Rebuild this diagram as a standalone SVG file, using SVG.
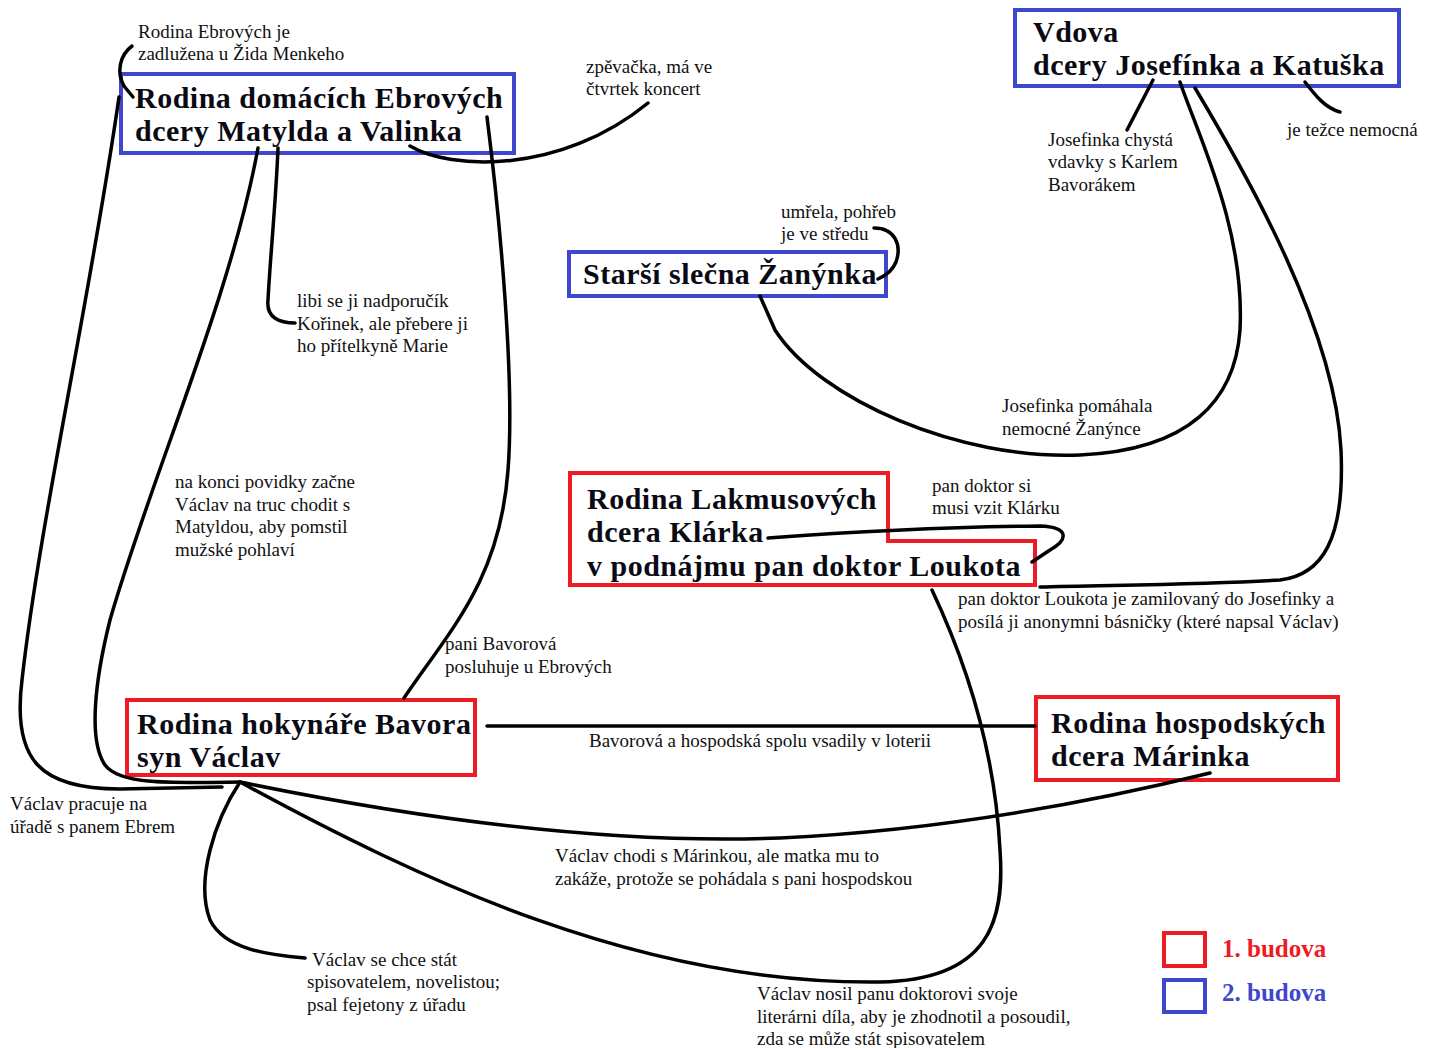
<svg xmlns="http://www.w3.org/2000/svg" width="1441" height="1048" viewBox="0 0 1441 1048">
<style>
.box{fill:none;stroke-width:4}
.red{stroke:#ed1c24}
.blue{stroke:#3f48cc}
.title{font-family:"Liberation Serif","Times New Roman",serif;font-weight:bold;font-size:30px;letter-spacing:0.5px;fill:#0a0a14}
.note{font-family:"Liberation Serif","Times New Roman",serif;font-size:19px;fill:#111}
.conn{fill:none;stroke:#000;stroke-width:3.5;stroke-linecap:round;stroke-linejoin:round}
.leg{font-family:"Liberation Serif","Times New Roman",serif;font-weight:bold;font-size:25px}
</style>
<rect width="1441" height="1048" fill="#fff"/>

<g id="node-ebrovi">
<rect class="box blue" x="121" y="74" width="393" height="79"/>
<text class="title" x="135" y="108">Rodina domácích Ebrových</text>
<text class="title" x="135" y="141">dcery Matylda a Valinka</text>
</g>
<g id="node-vdova">
<rect class="box blue" x="1015" y="10" width="384" height="76"/>
<text class="title" x="1033" y="42">Vdova</text>
<text class="title" x="1033" y="75">dcery Josefínka a Katuška</text>
</g>
<g id="node-zanynka">
<rect class="box blue" x="569" y="252" width="317" height="44"/>
<text class="title" x="583" y="284">Starší slečna Žanýnka</text>
</g>
<g id="node-lakmus">
<path class="box red" d="M570,473 H888 V541 H1035 V585 H570 Z"/>
<text class="title" x="587" y="509">Rodina Lakmusových</text>
<text class="title" x="587" y="542">dcera Klárka</text>
<text class="title" x="587" y="576">v podnájmu pan doktor Loukota</text>
</g>
<g id="node-bavor">
<rect class="box red" x="127" y="700" width="348" height="75"/>
<text class="title" x="137" y="734">Rodina hokynáře Bavora</text>
<text class="title" x="137" y="767">syn Václav</text>
</g>
<g id="node-hospodsti">
<rect class="box red" x="1036" y="697" width="302" height="83"/>
<text class="title" x="1051" y="733">Rodina hospodských</text>
<text class="title" x="1051" y="766">dcera Márinka</text>
</g>
<g id="legend">
<rect class="box red" x="1164" y="933" width="41" height="33"/>
<text class="leg" x="1222" y="957" fill="#ed1c24">1. budova</text>
<rect class="box blue" x="1164" y="980" width="41" height="32"/>
<text class="leg" x="1222" y="1001" fill="#3f48cc">2. budova</text>
</g>

<g id="connectors">
<path class="conn" d="M132,46 C120,55 116,72 124,86 L133,97"/>
<path class="conn" d="M119,97 C90,300 40,520 22,680 C12,760 40,789 120,789 L222,787"/>
<path class="conn" d="M258,148 C230,300 150,480 110,620 C95,680 88,740 105,765 C120,785 170,783 240,782"/>
<path class="conn" d="M278,148 C276,200 270,260 268,300 C266,318 280,323 295,323"/>
<path class="conn" d="M410,146 C450,170 560,175 648,103"/>
<path class="conn" d="M487,117 C500,220 515,380 508,470 C500,580 450,630 404,698"/>
<path class="conn" d="M1153,80 L1127,130"/>
<path class="conn" d="M1305,82 C1315,95 1325,108 1340,112"/>
<path class="conn" d="M1180,82 C1200,140 1245,230 1240,330 C1235,400 1190,450 1080,455 C960,460 820,400 775,330 L760,296"/>
<path class="conn" d="M1195,88 C1250,180 1335,330 1341,450 C1345,540 1322,575 1280,580 C1200,585 1100,585 1040,587"/>
<path class="conn" d="M874,228 C895,228 902,245 896,262 C892,272 885,276 878,279"/>
<path class="conn" d="M768,538 C850,532 950,527 1040,526 C1070,527 1068,540 1050,550 L1032,562"/>
<path class="conn" d="M240,782 C420,880 640,985 880,982 C990,980 1005,920 1000,850 C995,750 965,660 932,590"/>
<path class="conn" d="M240,782 C400,815 600,845 780,838 C950,830 1100,800 1210,773"/>
<path class="conn" d="M240,782 C215,820 195,880 210,920 C225,950 270,955 305,958"/>
<path class="conn" d="M487,726 H1035"/>
</g>

<g id="labels">
<text class="note" x="138" y="38">Rodina Ebrových je</text>
<text class="note" x="138" y="60">zadlužena u Žida Menkeho</text>
<text class="note" x="586" y="73">zpěvačka, má ve</text>
<text class="note" x="586" y="95">čtvrtek koncert</text>
<text class="note" x="1048" y="146">Josefinka chystá</text>
<text class="note" x="1048" y="168">vdavky s Karlem</text>
<text class="note" x="1048" y="191">Bavorákem</text>
<text class="note" x="1287" y="136">je težce nemocná</text>
<text class="note" x="781" y="218">umřela, pohřeb</text>
<text class="note" x="781" y="240">je ve středu</text>
<text class="note" x="297" y="307">libi se ji nadporučík</text>
<text class="note" x="297" y="330">Kořinek, ale přebere ji</text>
<text class="note" x="297" y="352">ho přítelkyně Marie</text>
<text class="note" x="175" y="488">na konci povidky začne</text>
<text class="note" x="175" y="511">Václav na truc chodit s</text>
<text class="note" x="175" y="533">Matyldou, aby pomstil</text>
<text class="note" x="175" y="556">mužské pohlaví</text>
<text class="note" x="1002" y="412">Josefinka pomáhala</text>
<text class="note" x="1002" y="435">nemocné Žanýnce</text>
<text class="note" x="932" y="492">pan doktor si</text>
<text class="note" x="932" y="514">musi vzit  Klárku</text>
<text class="note" x="958" y="605">pan doktor Loukota je zamilovaný do Josefinky a</text>
<text class="note" x="958" y="628">posílá ji anonymni básničky (které napsal Václav)</text>
<text class="note" x="445" y="650">pani Bavorová</text>
<text class="note" x="445" y="673">posluhuje u Ebrových</text>
<text class="note" x="589" y="747">Bavorová a hospodská spolu vsadily v loterii</text>
<text class="note" x="10" y="810">Václav pracuje na</text>
<text class="note" x="10" y="833">úřadě s panem Ebrem</text>
<text class="note" x="555" y="862">Václav chodi s Márinkou, ale matka mu to</text>
<text class="note" x="555" y="885">zakáže, protože se pohádala s pani hospodskou</text>
<text class="note" x="312" y="966">Václav se chce stát</text>
<text class="note" x="307" y="988">spisovatelem, novelistou;</text>
<text class="note" x="307" y="1011">psal fejetony z úřadu</text>
<text class="note" x="757" y="1000">Václav nosil panu doktorovi svoje</text>
<text class="note" x="757" y="1023">literárni díla, aby je zhodnotil a posoudil,</text>
<text class="note" x="757" y="1045">zda se může stát spisovatelem</text>
</g>
</svg>
